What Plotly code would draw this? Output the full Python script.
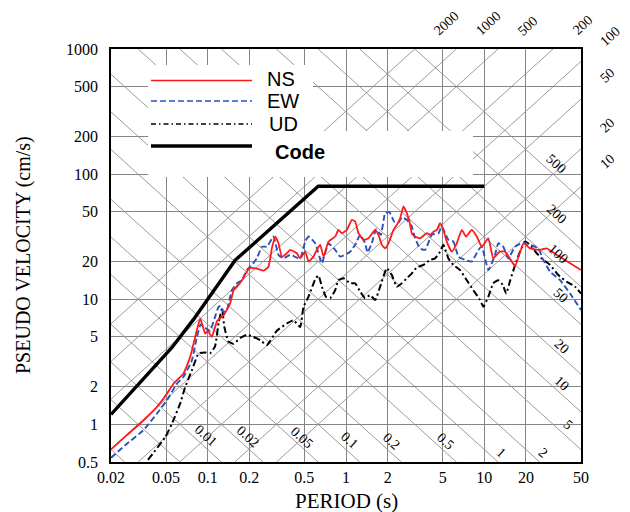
import math
import plotly.graph_objects as go

# ---------------- data ----------------
ns_period = [0.02, 0.026, 0.0326, 0.043, 0.0508, 0.0567, 0.0669, 0.0748, 0.0836, 0.0884,
             0.096, 0.1, 0.107, 0.117, 0.131, 0.1455, 0.154, 0.163, 0.177, 0.2,
             0.227, 0.253, 0.275, 0.291, 0.308, 0.325, 0.344, 0.374, 0.395, 0.441,
             0.466, 0.507, 0.536, 0.582, 0.615, 0.651, 0.688, 0.747, 0.835, 0.882,
             0.933, 1.014, 1.102, 1.165, 1.231, 1.338, 1.454, 1.624, 1.717, 1.815,
             1.919, 2.028, 2.204, 2.329, 2.463, 2.603, 2.751, 2.876, 2.99, 3.16,
             3.43, 3.84, 4.06, 4.29, 4.53, 4.79, 5.06, 5.35, 5.82, 6.32,
             6.87, 7.38, 8.11, 8.82, 9.58, 10.7, 11.6, 12.9, 14.1, 15.3,
             16.7, 19.2, 21.4, 25.3, 28.3, 33.4, 41.7, 50]
ns_psv = [0.63, 0.82, 1.02, 1.38, 1.76, 2.12, 2.55, 3.47, 5.67, 7.0,
          5.3, 5.6, 5.0, 6.7, 7.5, 9.3, 11.8, 12.6, 14.2, 17.7,
          17.6, 16.9, 18.2, 25.5, 31.7, 28.0, 21.9, 23.3, 24.8, 23.3,
          21.2, 24.0, 20.0, 21.9, 24.8, 27.2, 21.9, 28.9, 31.7, 35.8,
          33.7, 35.8, 43.1, 41.8, 33.7, 29.8, 30.7, 35.8, 32.7, 27.2,
          25.5, 28.0, 35.8, 39.3, 44.4, 55.1, 48.7, 41.8, 33.7, 31.7,
          30.7, 33.7, 32.7, 34.7, 35.8, 40.5, 35.8, 28.9, 24.0, 28.0,
          35.8, 31.7, 35.8, 31.7, 26.3, 30.7, 21.2, 24.0, 24.0, 21.2,
          18.4, 28.0, 25.5, 24.8, 25.5, 22.6, 19.4, 17.1]

ew_period = [0.02, 0.0261, 0.0344, 0.043, 0.0508, 0.06, 0.0669, 0.077, 0.0836, 0.089,
             0.096, 0.104, 0.112, 0.12, 0.1253, 0.13, 0.1377, 0.1496, 0.1626, 0.1768,
             0.192, 0.2087, 0.2268, 0.2465, 0.268, 0.299, 0.325, 0.353, 0.395, 0.466,
             0.507, 0.536, 0.599, 0.669, 0.747, 0.835, 0.907, 1.072, 1.165, 1.266,
             1.375, 1.43, 1.537, 1.652, 1.785, 1.919, 2.063, 2.228, 2.395, 2.532,
             2.751, 2.99, 3.16, 3.43, 3.73, 4.17, 4.66, 4.92, 5.5, 5.98,
             6.5, 7.26, 8.11, 9.07, 9.58, 10.7, 11.96, 12.6, 13.7, 14.9,
             16.7, 19.2, 21.4, 24.6, 26.7, 29.9, 35.3, 41.7, 50]
ew_psv = [0.54, 0.70, 0.90, 1.22, 1.56, 2.12, 2.4, 3.26, 5.0, 6.3,
          5.9, 5.6, 7.0, 8.7, 8.8, 7.9, 8.2, 11.8, 13.4, 14.2,
          17.1, 18.8, 21.2, 26.3, 26.3, 31.7, 22.6, 21.2, 22.6, 21.2,
          28.9, 31.7, 28.0, 19.4, 28.0, 24.8, 21.9, 24.0, 27.2, 32.7,
          28.0, 23.6, 28.0, 36.3, 32.7, 48.7, 49.6, 41.8, 41.0, 45.2,
          43.1, 38.1, 30.7, 25.5, 24.8, 32.7, 33.7, 38.1, 29.8, 28.9,
          21.9, 20.6, 20.0, 24.8, 26.3, 17.1, 22.6, 28.0, 26.3, 21.2,
          26.3, 28.4, 27.2, 25.5, 20.6, 16.6, 14.2, 11.1, 8.2]

ud_period = [0.037, 0.0493, 0.0551, 0.0633, 0.0688, 0.0769, 0.086, 0.096, 0.104, 0.113,
             0.12, 0.127, 0.132, 0.141, 0.154, 0.172, 0.192, 0.214, 0.24, 0.268,
             0.316, 0.374, 0.417, 0.466, 0.493, 0.536, 0.6, 0.633, 0.669, 0.719,
             0.768, 0.835, 0.882, 0.959, 1.072, 1.165, 1.266, 1.375, 1.494, 1.624,
             1.766, 1.972, 2.144, 2.329, 2.532, 2.751, 2.99, 3.25, 3.63, 4.06,
             4.41, 4.79, 5.06, 5.5, 5.98, 6.68, 7.46, 8.34, 9.32, 9.85,
             10.7, 11.6, 12.6, 13.6, 14.4, 15.4, 16.7, 18.1, 19.7, 21.4,
             23.9, 26.7, 29.9, 34.3, 39.4, 45.3, 50]
ud_psv = [0.52, 0.79, 1.01, 1.47, 1.99, 2.71, 3.69, 3.75, 3.7, 4.2,
          6.5, 8.4, 6.0, 4.6, 4.4, 4.9, 5.2, 5.0, 4.7, 4.3,
          5.6, 6.4, 6.8, 6.0, 8.7, 10.5, 14.5, 15.5, 12.6, 10.4,
          10.2, 11.8, 14.2, 14.7, 13.4, 13.4, 11.5, 10.2, 10.8, 9.85,
          12.6, 17.7, 15.6, 12.6, 13.4, 14.7, 16.1, 18.0, 18.8, 20.6,
          21.2, 24.0, 27.2, 21.2, 18.8, 17.1, 14.2, 11.8, 9.85, 8.7,
          10.5, 13.4, 14.2, 13.0, 11.1, 14.2, 18.8, 24.0, 28.9, 27.2,
          23.3, 20.6, 18.8, 15.6, 13.8, 12.6, 11.1]

code_period = [0.02, 0.0317, 0.055, 0.079, 0.1, 0.158, 0.63, 10]
code_psv = [1.2, 2.1, 4.1, 6.9, 10.0, 20.5, 80.0, 80.0]

x_tickvals = [0.02, 0.05, 0.1, 0.2, 0.5, 1, 2, 5, 10, 20, 50]
x_ticktext = ["0.02", "0.05", "0.1", "0.2", "0.5", "1", "2", "5", "10", "20", "50"]
y_tickvals = [0.5, 1, 2, 5, 10, 20, 50, 100, 200, 500, 1000]
y_ticktext = ["0.5", "1", "2", "5", "10", "20", "50", "100", "200", "500", "1000"]

# tripartite guide lines
disp_values = [0.002, 0.005, 0.01, 0.02, 0.05, 0.1, 0.2, 0.5, 1, 2, 5, 10, 20, 50, 100, 200, 500]  # cm
disp_labels = ["0.01", "0.02", "0.05", "0.1", "0.2", "0.5", "1", "2", "5", "10", "20", "50", "100", "200", "500"]
acc_values = [10, 20, 50, 100, 200, 500, 1000, 2000]  # gal
acc_labels = ["2000", "1000", "500", "200", "100", "50", "20", "10"]

# ---------------- layout constants ----------------
OFF = 8                      # default page body margin
W, H = 630 - OFF, 512 - OFF  # figure size inside the page
ML, MT = 111 - OFF, 49 - OFF
PW, PH = 470, 413
MR, MB = W - ML - PW, H - MT - PH
T_MIN, T_MAX = 0.02, 50.0
V_MIN, V_MAX = 0.5, 1000.0
TWO_PI = 2 * math.pi


def px(x):
    """screen pixel x -> paper coordinate"""
    return (x - OFF - ML) / PW


def py(y):
    """screen pixel y -> paper coordinate"""
    return (OFF + MT + PH - y) / PH


fig = go.Figure()

# diagonal guide lines
gx, gy = [], []
for d in disp_values:
    t0 = max(T_MIN, TWO_PI * d / V_MAX)
    t1 = min(T_MAX, TWO_PI * d / V_MIN)
    if t0 < t1:
        gx += [t0, t1, None]
        gy += [TWO_PI * d / t0, TWO_PI * d / t1, None]
for a in acc_values:
    t0 = max(T_MIN, TWO_PI * V_MIN / a)
    t1 = min(T_MAX, TWO_PI * V_MAX / a)
    if t0 < t1:
        gx += [t0, t1, None]
        gy += [a * t0 / TWO_PI, a * t1 / TWO_PI, None]
fig.add_trace(go.Scatter(x=gx, y=gy, mode="lines", line=dict(color="#8f8f8f", width=0.9),
                         hoverinfo="skip", showlegend=False))

fig.add_trace(go.Scatter(x=ud_period, y=ud_psv, mode="lines", name="UD",
                         line=dict(color="black", width=2.0, dash="7px,3px,2px,3px",
                                   shape="spline", smoothing=0.4),
                         showlegend=False))
fig.add_trace(go.Scatter(x=ew_period, y=ew_psv, mode="lines", name="EW",
                         line=dict(color="#2b50c0", width=1.9, dash="6px,3px",
                                   shape="spline", smoothing=0.4),
                         showlegend=False))
fig.add_trace(go.Scatter(x=ns_period, y=ns_psv, mode="lines", name="NS",
                         line=dict(color="#ff1a1a", width=1.8, shape="spline", smoothing=0.4),
                         showlegend=False))
fig.add_trace(go.Scatter(x=code_period, y=code_psv, mode="lines", name="Code",
                         line=dict(color="black", width=3.4), showlegend=False))

shapes = []
# white legend background
for (x0, y0, x1, y1) in [(148, 65, 313, 132), (148, 131, 473, 177)]:
    shapes.append(dict(type="rect", xref="paper", yref="paper", x0=px(x0), x1=px(x1),
                       y0=py(y1), y1=py(y0), fillcolor="white", line=dict(width=0),
                       layer="above"))
legend_items = [("NS", 80.5, dict(color="#ff1a1a", width=1.6), 265, 79, False),
                ("EW", 101, dict(color="#2b50c0", width=1.6, dash="6px,3px"), 265, 101, False),
                ("UD", 124, dict(color="black", width=1.6, dash="5px,3px,1.5px,3px"), 267, 124, False),
                ("Code", 146, dict(color="black", width=3.4), 273, 152, True)]
annotations = []
for name, ly, lstyle, tx, ty, bold in legend_items:
    shapes.append(dict(type="line", xref="paper", yref="paper", x0=px(151), x1=px(252),
                       y0=py(ly), y1=py(ly), line=lstyle, layer="above"))
    annotations.append(dict(text=("<b>%s</b>" % name) if bold else name, xref="paper", yref="paper",
                            x=px(tx), y=py(ty), xanchor="left", yanchor="middle", showarrow=False,
                            font=dict(family="Liberation Sans, Arial", size=20, color="black")))

# guide-line labels
disp_label_pos = [(206, 435), (248, 436), (302, 437), (350, 440), (392, 441), (446, 441),
                  (501, 452), (543, 452), (568, 424), (562, 383), (562, 346), (561, 295),
                  (558, 253), (556, 214), (556, 163)]
for lab, (x, y) in zip(disp_labels, disp_label_pos):
    annotations.append(dict(text=lab, xref="paper", yref="paper", x=px(x), y=py(y),
                            xanchor="center", yanchor="middle", showarrow=False, textangle=42,
                            font=dict(family="Liberation Serif, Times New Roman", size=14, color="black")))
acc_label_pos = [(446, 23), (488, 23), (527, 26), (582, 25), (610, 37), (607, 75), (607, 125), (607, 161)]
for lab, (x, y) in zip(acc_labels, acc_label_pos):
    annotations.append(dict(text=lab, xref="paper", yref="paper", x=px(x), y=py(y),
                            xanchor="center", yanchor="middle", showarrow=False, textangle=-42,
                            font=dict(family="Liberation Serif, Times New Roman", size=14, color="black")))

# axis titles
annotations.append(dict(text="PERIOD (s)", xref="paper", yref="paper", x=px(346), y=py(501),
                        xanchor="center", yanchor="middle", showarrow=False,
                        font=dict(family="Liberation Serif, Times New Roman", size=21, color="black")))
annotations.append(dict(text="PSEUDO VELOCITY (cm/s)", xref="paper", yref="paper", x=px(23), y=py(255),
                        xanchor="center", yanchor="middle", showarrow=False, textangle=-90,
                        font=dict(family="Liberation Serif, Times New Roman", size=20, color="black")))

axis_font = dict(family="Liberation Serif, Times New Roman", size=16, color="black")
fig.update_layout(
    width=W, height=H, margin=dict(l=ML, r=MR, t=MT, b=MB),
    paper_bgcolor="white", plot_bgcolor="white",
    shapes=shapes, annotations=annotations, showlegend=False,
    xaxis=dict(type="log", range=[math.log10(T_MIN), math.log10(T_MAX)],
               tickvals=x_tickvals, ticktext=x_ticktext, tickfont=axis_font,
               showgrid=True, gridcolor="#858585", gridwidth=1, ticks="",
               ticklabelstandoff=0,
               showline=True, mirror=True, linecolor="black", linewidth=1.5, zeroline=False),
    yaxis=dict(type="log", range=[math.log10(V_MIN), math.log10(V_MAX)],
               tickvals=y_tickvals, ticktext=y_ticktext, tickfont=axis_font,
               showgrid=True, gridcolor="#858585", gridwidth=1, ticks="",
               ticklabelstandoff=8,
               showline=True, mirror=True, linecolor="black", linewidth=1.5, zeroline=False),
)

fig.write_html("out.html")
